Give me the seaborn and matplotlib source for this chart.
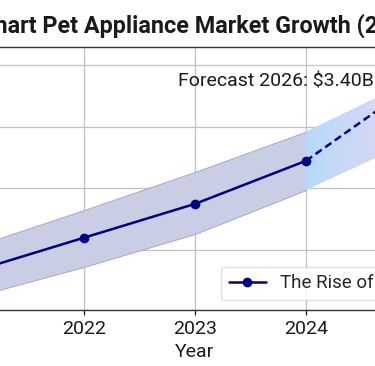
import matplotlib
matplotlib.use("Agg")
import matplotlib.pyplot as plt
from matplotlib.colors import LinearSegmentedColormap
import numpy as np
import pandas as pd
import seaborn as sns

# historical market size (billion USD) with uncertainty band
years = [2021, 2022, 2023, 2024]
market = [2.53, 2.64, 2.75, 2.89]
band_low = [2.447, 2.545, 2.652, 2.795]
band_high = [2.610, 2.730, 2.854, 2.985]

# forecast segment
fc_years = [2024, 2026]
fc_market = [2.89, 3.40]
fc_low = [2.795, 3.127]
fc_high = [2.985, 3.335]

title = "Smart Pet Appliance Market Growth (2021-2026)"
series_label = "The Rise of AI-Powered Pet Care"

sns.set_theme(style="whitegrid")
plt.rcParams.update({
    "axes.edgecolor": "0.2",
    "axes.linewidth": 1.0,
    "grid.color": "0.76",
    "grid.linewidth": 0.9,
    "xtick.bottom": True,
    "xtick.major.size": 3.5,
    "xtick.major.width": 0.9,
    "xtick.color": "0.2",
})
plt.rcParams["font.family"] = ["Roboto", "DejaVu Sans"]

df = pd.DataFrame({"Year": years, "Market": market})

fig = plt.figure(figsize=(3.75, 3.66), dpi=100)
ax = fig.add_axes([-54.75 / 375, 56 / 366, 499.5 / 375, 263 / 366])

ax.fill_between(years, band_low, band_high, facecolor="#c9cee5",
                edgecolor="#9aa0cc", linewidth=0.6, zorder=1)

# forecast band with a blue -> lavender gradient
poly = ax.fill_between(fc_years, fc_low, fc_high, color="none", zorder=1)
cmap = LinearSegmentedColormap.from_list(
    "fc", [(0.0, "#b6dafb"), (0.35, "#d9d8f3"), (1.0, "#eedcec")])
grad = np.linspace(0, 1, 256).reshape(1, -1)
img = ax.imshow(grad, extent=[fc_years[0], fc_years[-1], min(fc_low), max(fc_high)],
                aspect="auto", cmap=cmap, zorder=1, origin="lower")
img.set_clip_path(poly.get_paths()[0], transform=ax.transData)

sns.lineplot(data=df, x="Year", y="Market", ax=ax, color="navy", linewidth=1.8,
             marker="o", markersize=7, markeredgewidth=0, label=series_label, zorder=3)
ax.plot(fc_years, fc_market, color="navy", linewidth=1.8, linestyle=(0, (3, 1.7)), zorder=3)

ax.text(2022.847, 3.133, "Forecast 2026: $3.40B", fontsize=14, color="0.1",
        ha="left", va="baseline")

fig.text(-27 / 375, 1 - 33 / 366, title, fontsize=16.8, fontweight="bold",
         color="0.1", ha="left", va="baseline")

ax.set_xlim(2020.75, 2025.25)
ax.set_ylim(2.405, 3.26)
ax.set_xticks([2021, 2022, 2023, 2024, 2025])
ax.set_yticks([2.6, 2.8, 3.0, 3.2])
ax.tick_params(axis="x", labelsize=14, colors="0.1")
ax.set_xlabel("Year", fontsize=14, color="0.1")
ax.set_ylabel("Market Size (Billion USD)", fontsize=14)

ax.legend(loc="upper left", bbox_to_anchor=((221 + 54.75) / 499.5, (310 - 267) / 263),
          borderaxespad=0, fontsize=13.5, handletextpad=0.75, frameon=True,
          framealpha=0.8, edgecolor="0.85")

fig.savefig("out.png", dpi=100)
